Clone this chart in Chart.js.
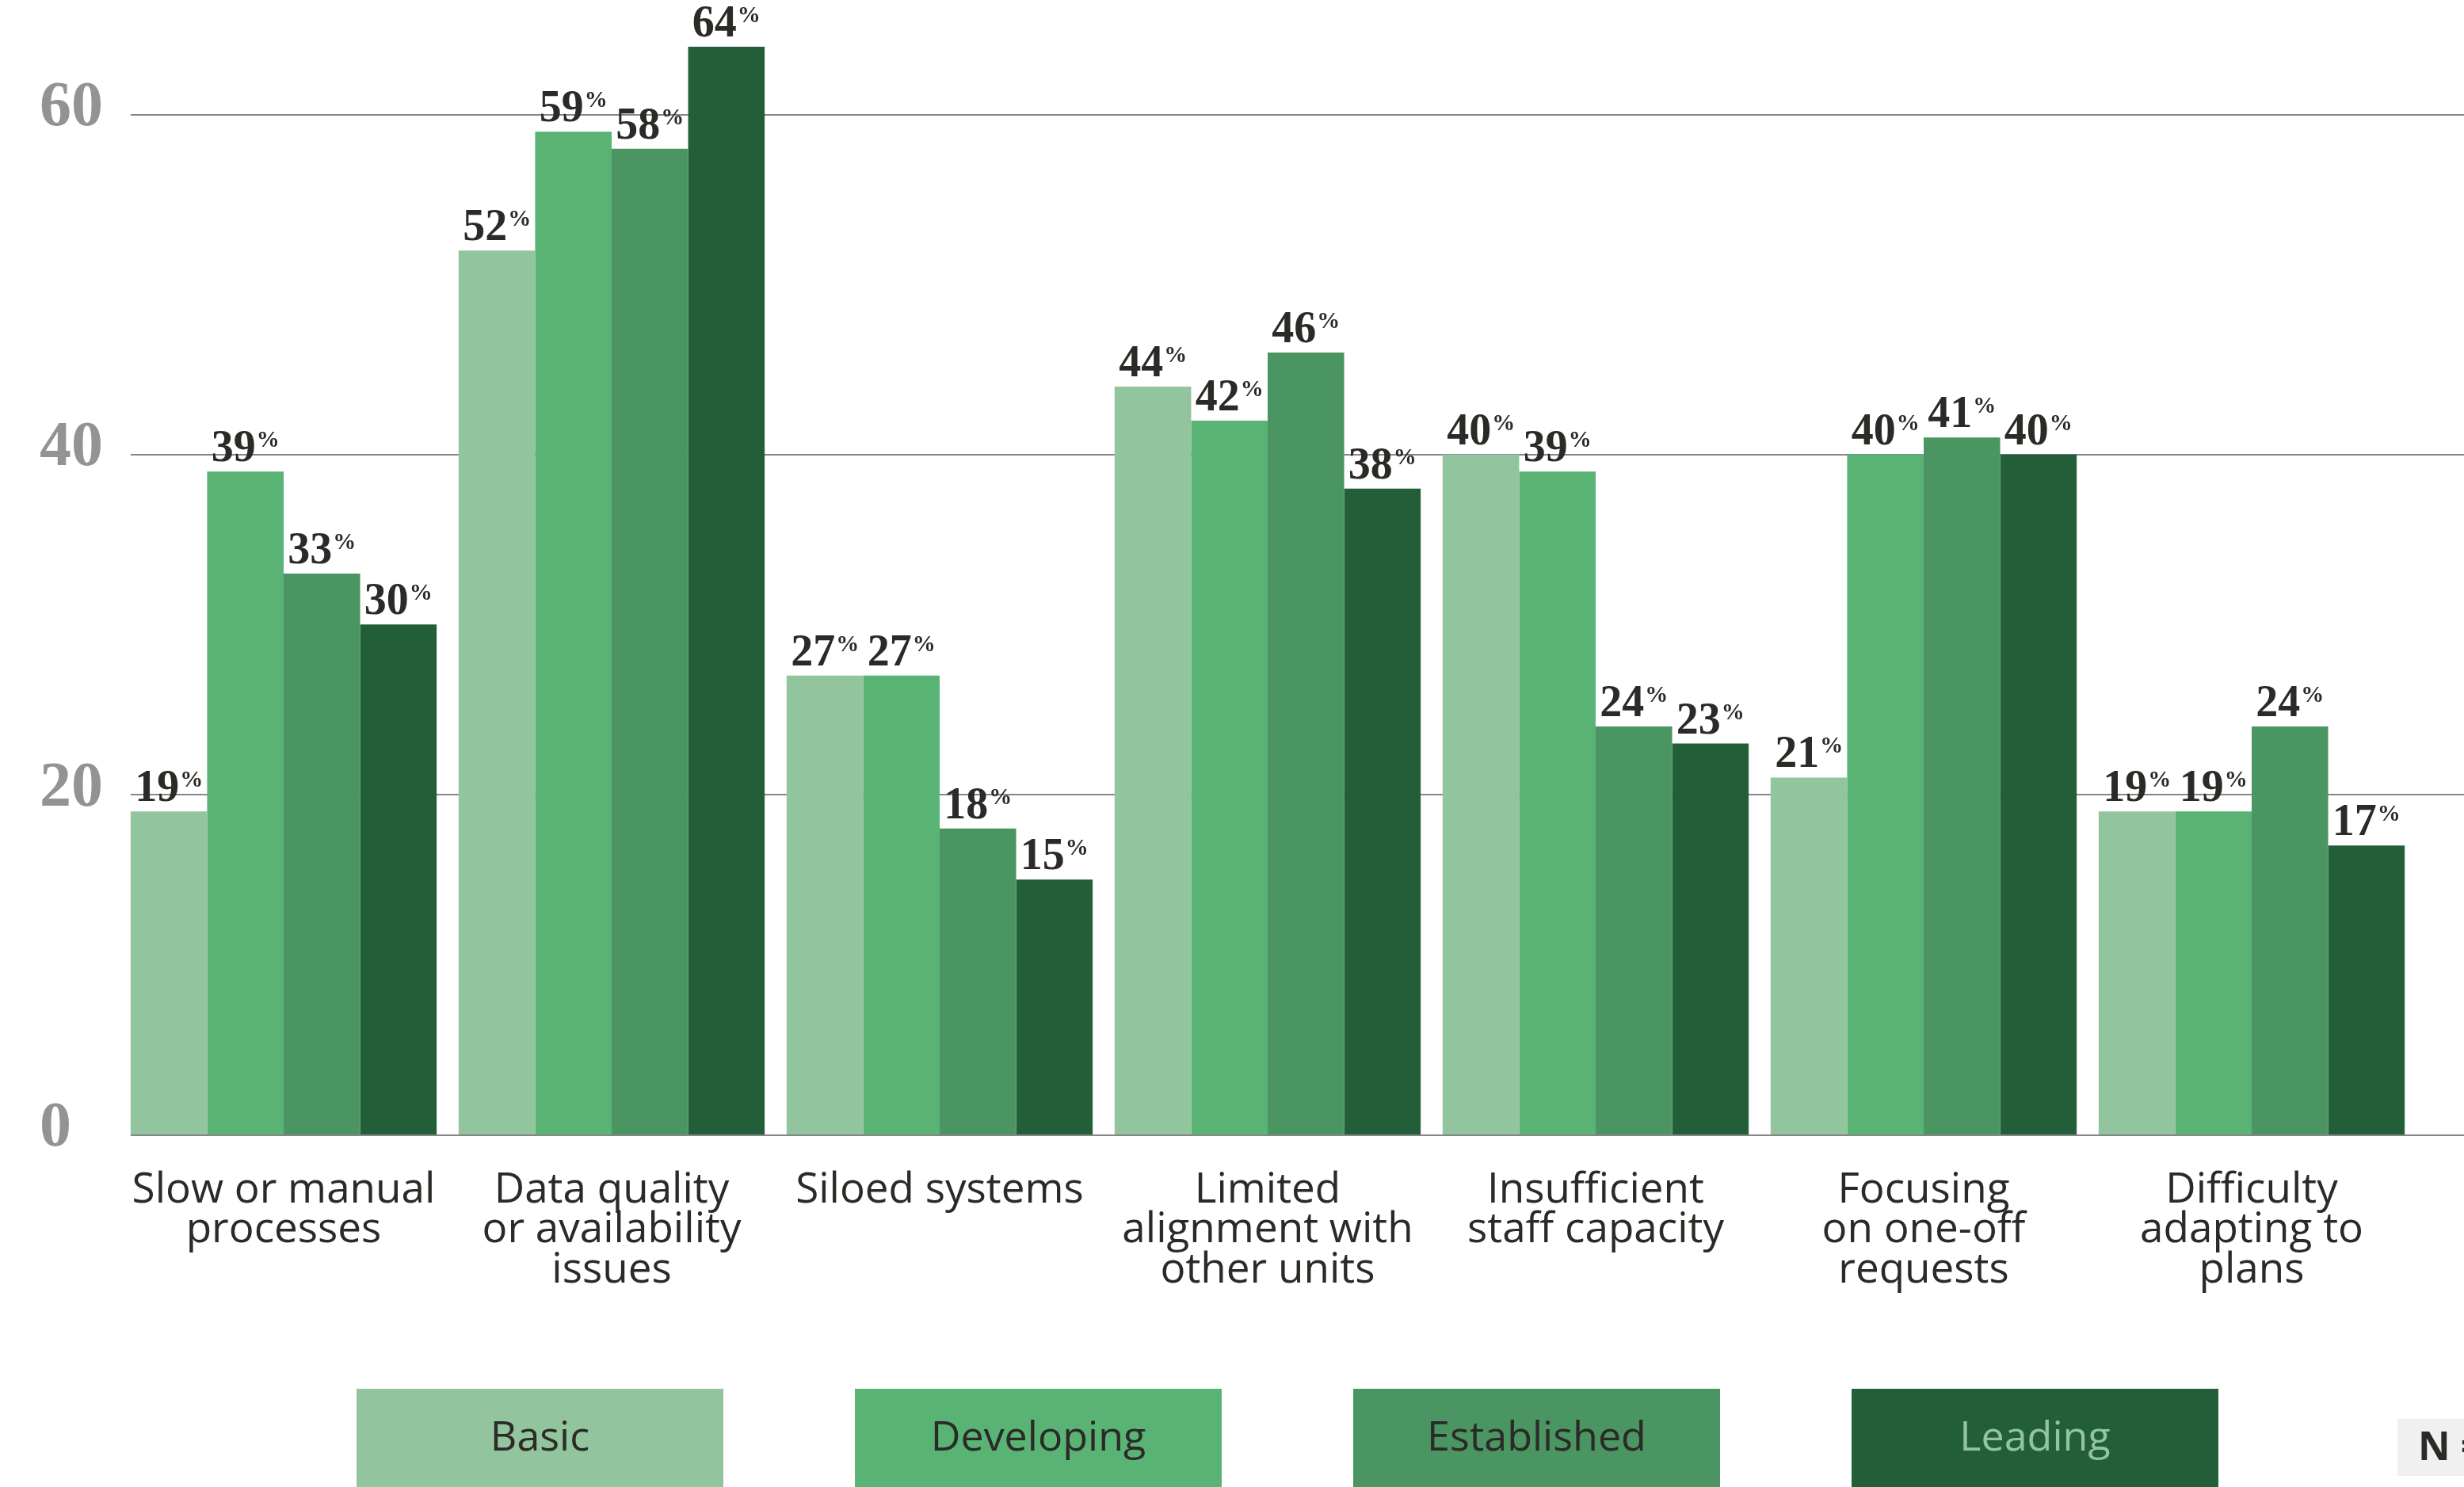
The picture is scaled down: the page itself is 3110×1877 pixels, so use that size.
<!DOCTYPE html>
<html>
<head>
<meta charset="utf-8">
<script src="https://cdn.jsdelivr.net/npm/chart.js@4.4.1/dist/chart.umd.min.js"></script>
<style>
  html, body { margin: 0; padding: 0; background: #ffffff; overflow: hidden; }
  canvas { display: block; }
</style>
</head>
<body>
<canvas id="chart" width="3110" height="1877"></canvas>
<script>
// Challenges by maturity level (% of respondents)
const categories = [
  ['Slow or manual', 'processes'],
  ['Data quality', 'or availability', 'issues'],
  ['Siloed systems'],
  ['Limited', 'alignment with', 'other units'],
  ['Insufficient', 'staff capacity'],
  ['Focusing', 'on one-off', 'requests'],
  ['Difficulty', 'adapting to', 'plans']
];
const seriesNames = ['Basic', 'Developing', 'Established', 'Leading'];
const basic       = [19, 52, 27, 44, 40, 21, 19];
const developing  = [39, 59, 27, 42, 39, 40, 19];
const established = [33, 58, 18, 46, 24, 41, 24];
const leading     = [30, 64, 15, 38, 23, 40, 17];
const yTicks = [0, 20, 40, 60];
const footnoteText = 'N =';

const seriesColors = ['#92c49e', '#58b374', '#4a9562', '#225e38'];
const legendTextColors = ['#2b2a27', '#2b2a27', '#2b2a27', '#92c49e'];
const CAT_PCT = 0.933;
const INK = '#2b2a27';
const GRID = '#868686';

// horizontal reference lines, running from the first bar to the right edge
function lineStartX(chart) {
  const { chartArea } = chart;
  const catW = (chartArea.right - chartArea.left) / categories.length;
  return chartArea.left + catW * (1 - CAT_PCT) / 2;
}
const gridLines = {
  id: 'gridLines',
  beforeDatasetsDraw(chart) {
    const { ctx, scales } = chart;
    const startX = lineStartX(chart);
    ctx.save();
    ctx.strokeStyle = GRID;
    ctx.lineWidth = 2;
    yTicks.forEach(v => {
      if (v === 0) return;
      const py = Math.round(scales.y.getPixelForValue(v));
      ctx.beginPath();
      ctx.moveTo(startX, py);
      ctx.lineTo(chart.width, py);
      ctx.stroke();
    });
    ctx.restore();
  },
  afterDatasetsDraw(chart) {
    const { ctx, scales } = chart;
    const startX = lineStartX(chart);
    const py = Math.round(scales.y.getPixelForValue(0)) + 1;
    ctx.save();
    ctx.strokeStyle = GRID;
    ctx.lineWidth = 2;
    ctx.beginPath();
    ctx.moveTo(startX, py);
    ctx.lineTo(chart.width, py);
    ctx.stroke();
    ctx.restore();
  }
};

// value labels above each bar: number with a small raised percent sign
const valueLabels = {
  id: 'valueLabels',
  afterDatasetsDraw(chart) {
    const ctx = chart.ctx;
    const numFont = 'bold 56px "Liberation Serif"';
    const pctFont = 'bold 29px "Liberation Serif"';
    ctx.save();
    ctx.fillStyle = INK;
    ctx.textAlign = 'left';
    ctx.textBaseline = 'alphabetic';
    chart.data.datasets.forEach((ds, di) => {
      const meta = chart.getDatasetMeta(di);
      meta.data.forEach((bar, i) => {
        const num = String(ds.data[i]);
        ctx.font = numFont;
        const wNum = ctx.measureText(num).width;
        ctx.font = pctFont;
        const wPct = ctx.measureText('%').width;
        const left = bar.x - (wNum + 1 + wPct) / 2;
        const base = bar.y - 13;
        ctx.font = numFont;
        ctx.fillText(num, left, base);
        ctx.font = pctFont;
        ctx.fillText('%', left + wNum + 1, base - 18);
      });
    });
    ctx.restore();
  }
};

// legend as filled blocks with the series name inside, plus the sample-size tag
const blockLegend = {
  id: 'blockLegend',
  afterDraw(chart) {
    const ctx = chart.ctx;
    const x0 = 450, step = 629, w = 463, top = 1753, baseline = 1831;
    ctx.save();
    chart.data.datasets.forEach((ds, i) => {
      const bx = x0 + i * step;
      ctx.fillStyle = ds.backgroundColor;
      ctx.fillRect(bx, top, w, chart.height - top);
      ctx.fillStyle = legendTextColors[i];
      ctx.font = '52px "Open Sans"';
      ctx.textAlign = 'center';
      ctx.textBaseline = 'alphabetic';
      ctx.fillText(ds.label, bx + w / 2, baseline);
    });
    ctx.fillStyle = '#f0f0f0';
    ctx.fillRect(3026, 1791, chart.width - 3026, 72);
    ctx.fillStyle = INK;
    ctx.font = 'bold 50px "Open Sans"';
    ctx.textAlign = 'left';
    ctx.fillText(footnoteText, 3052, 1843);
    ctx.restore();
  }
};

const seriesValues = [basic, developing, established, leading];

new Chart(document.getElementById('chart'), {
  type: 'bar',
  data: {
    labels: categories,
    datasets: seriesNames.map((name, i) => ({
      label: name,
      data: seriesValues[i],
      backgroundColor: seriesColors[i],
      borderWidth: 0,
      categoryPercentage: CAT_PCT,
      barPercentage: 1
    }))
  },
  options: {
    responsive: false,
    animation: false,
    layout: { padding: { top: 16, left: 50, right: 61, bottom: 0 } },
    plugins: {
      legend: { display: false },
      tooltip: { enabled: false }
    },
    scales: {
      x: {
        grid: { display: false, drawTicks: false },
        border: { display: false },
        ticks: {
          autoSkip: false,
          maxRotation: 0,
          minRotation: 0,
          padding: 45,
          color: INK,
          font: { family: "'Open Sans', sans-serif", size: 53, lineHeight: 0.96 }
        },
        afterFit(scale) {
          scale.height = 445;
          scale.paddingLeft = 0;
          scale.paddingRight = 0;
        }
      },
      y: {
        min: 0,
        max: 66,
        grid: { display: false, drawTicks: false },
        border: { display: false },
        afterBuildTicks(scale) { scale.ticks = yTicks.map(v => ({ value: v })); },
        ticks: {
          crossAlign: 'far',
          padding: 0,
          labelOffset: -7,
          color: '#939393',
          font: { family: "'Liberation Serif', serif", size: 80, weight: 'bold' }
        },
        afterFit(scale) {
          scale.width = 101;
          scale.paddingTop = 0;
          scale.paddingBottom = 0;
        }
      }
    }
  },
  plugins: [gridLines, valueLabels, blockLegend]
});
</script>
</body>
</html>
